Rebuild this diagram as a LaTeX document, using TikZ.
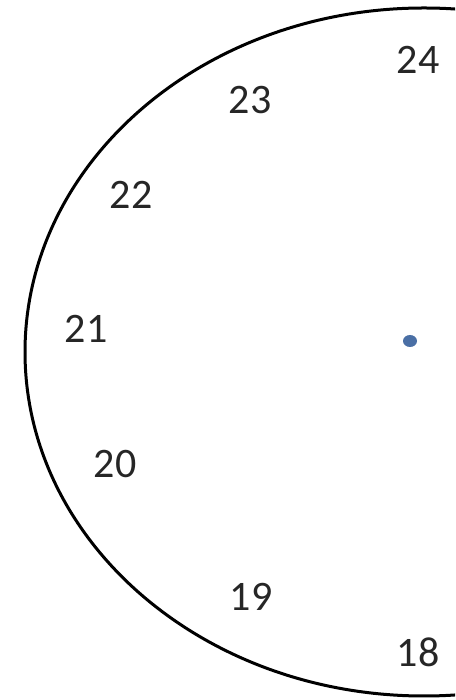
\documentclass[tikz,border=0pt]{standalone}
\usepackage{fontspec}
\setmainfont{Carlito}
\usepackage{xcolor}
\usetikzlibrary{positioning}

\definecolor{dotblue}{HTML}{4A6FA5}

\begin{document}
\begin{tikzpicture}[
  x=1pt, y=1pt,
  hour/.style={font=\fontsize{42}{44}\selectfont, text=black!85, inner sep=0pt},
  face/.style={draw=black, line width=3pt},
]
\useasboundingbox (0,0) rectangle (455,700);
\clip (0,0) rectangle (455,700);

% Clock face
\draw[face] (424,348) ellipse (399 and 344);
\fill[dotblue] (410,359) ellipse (7 and 6);
\coordinate (centre) at (410,359);

% Hour labels
\node[hour] (h24) at (418,640) {24};
\node[hour] (h23) at (250,600) {23};
\node[hour] (h22) at (131,505) {22};
\node[hour] (h21) at (86,371) {21};
\node[hour] (h20) at (115,236) {20};
\node[hour] (h19) at (251,103) {19};
\node[hour] (h18) at (418,48) {18};
\end{tikzpicture}
\end{document}
